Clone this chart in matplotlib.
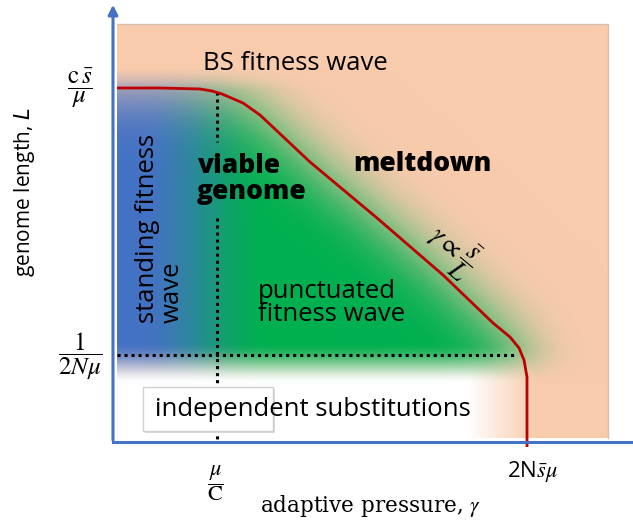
import numpy as np
import matplotlib
matplotlib.use("Agg")
import matplotlib.pyplot as plt
from matplotlib.path import Path
from matplotlib.patches import Rectangle

# schematic coordinates (pixel-like units, y grows downward)
curve_gamma = [117, 160, 200, 212, 222, 243, 260, 310, 377, 443, 493, 510, 519, 524, 527, 527, 527]
curve_L = [88, 88, 89, 91, 94, 103, 115, 162, 218, 275, 323, 337, 348, 360, 377, 420, 447]

ytick_pos = [88, 356]
ytick_labels = [r'$\dfrac{\mathrm{c}\,\bar{s}}{\mu}$', r'$\dfrac{1}{2N\mu}$']
xtick_pos = [215, 532]
xtick_labels = [r'$\dfrac{\mu}{\mathrm{C}}$', r'2N$\bar{s}\mu$']

mu_over_c = 217      # vertical dotted line
l_low = 355          # horizontal dotted line

peach = np.array([248, 203, 173]) / 255
blue = np.array([68, 114, 196]) / 255
green = np.array([0, 176, 80]) / 255
axis_blue = '#4472C4'
red = '#C00000'

W, H = 633, 525


def blur(a, s):
    k = np.arange(-3 * s, 3 * s + 1)
    g = np.exp(-k ** 2 / (2.0 * s * s))
    g /= g.sum()
    a = np.pad(a, 3 * s, mode='edge')
    a = np.apply_along_axis(lambda r: np.convolve(r, g, mode='same'), 0, a)
    a = np.apply_along_axis(lambda r: np.convolve(r, g, mode='same'), 1, a)
    return a[3 * s:-3 * s, 3 * s:-3 * s]


xx, yy = np.meshgrid(np.arange(W) + 0.5, np.arange(H) + 0.5)

# background: white + peach box
img = np.ones((H, W, 3))
box = (xx >= 117) & (xx <= 608) & (yy >= 24) & (yy <= 438)
img[box] = peach

# white zone at the bottom (independent substitutions)
sx = 1 - np.clip((xx - 468) / 68.0, 0, 1)
sy = np.clip((yy - 345) / 35.0, 0, 1)
aw = (sx * sy)[..., None] * box[..., None]
img = img * (1 - aw) + aw * 1.0

# viable region under the red curve
poly = [(-60, 88)] + list(zip(curve_gamma, curve_L)) + [(527, 600), (-60, 600)]
inside = Path(poly).contains_points(np.c_[xx.ravel(), yy.ravel()]).reshape(H, W).astype(float)
alpha = blur(inside, 28)
alpha *= np.clip((yy - 68) / 22.0, 0, 1)
v = np.clip((yy - 342) / 42.0, 0, 1)
alpha *= 1 - v * v * (3 - 2 * v)
alpha[~box] = 0
t = np.clip((xx - 140) / 130.0, 0, 1)
t = t * t * (3 - 2 * t)
col = blue * (1 - t[..., None]) + green * t[..., None]
img = img * (1 - alpha[..., None]) + col * alpha[..., None]

fig = plt.figure(figsize=(6.33, 5.25), dpi=100)
ax = fig.add_axes([0, 0, 1, 1])
ax.imshow(img, extent=(0, W, H, 0), interpolation='bilinear', zorder=0)
ax.set_xlim(0, W)
ax.set_ylim(H, 0)
ax.axis('off')

# box edges
ax.plot([117, 608, 608], [24, 24, 438], color='#d8c0b0', lw=1, zorder=1)

# dotted lines
dots = dict(color='black', lw=2.2, linestyle=(0, (1, 1.3)), zorder=3)
ax.plot([mu_over_c, mu_over_c], [92, 142], **dots)
ax.plot([mu_over_c, mu_over_c], [218, 442], **dots)
ax.plot([117, 517], [l_low, l_low], **dots)

# red boundary
ax.plot(curve_gamma, curve_L, color=red, lw=2, zorder=4, solid_capstyle='butt')

# axes
ax.plot([113, 633], [442, 442], color=axis_blue, lw=2.2, zorder=5)
ax.annotate('', xy=(113, 2), xytext=(113, 443),
            arrowprops=dict(arrowstyle='-|>', color=axis_blue, lw=2.2, mutation_scale=14), zorder=5)

sans = ['Open Sans', 'DejaVu Sans']
fs = 18.5

# independent substitutions box
ax.add_patch(Rectangle((145, 389), 130, 44, facecolor='#d9d9d9', edgecolor='none', zorder=5))
ax.add_patch(Rectangle((143, 387), 130, 44, facecolor='white', edgecolor='#d0d0d0', lw=1, zorder=6))
ax.text(155, 410, 'independent substitutions', family=sans, fontsize=fs, ha='left', va='center', zorder=7)

ax.text(203, 70, 'BS fitness wave', family=sans, fontsize=fs, ha='left', va='baseline', zorder=7)
ax.text(197, 179, 'viable\ngenome', family=sans, fontsize=19, weight='heavy', ha='left', va='center',
        linespacing=1.0, zorder=7)
ax.text(353, 164, 'meltdown', family=sans, fontsize=19, weight='heavy', ha='left', va='center', zorder=7)
ax.text(160, 323, 'standing fitness\nwave', family=sans, fontsize=fs, rotation=90, ha='center', va='bottom',
        multialignment='left', linespacing=0.95, zorder=7)
ax.text(258, 303, 'punctuated\nfitness wave', family=sans, fontsize=fs, ha='left', va='center',
        linespacing=0.9, zorder=7)
ax.text(451, 250, r'$\gamma \propto \dfrac{\bar{s}}{L}$', fontsize=19, rotation=-40, ha='center', va='center',
        math_fontfamily='stix', zorder=7)

# tick labels and axis titles
for y, lab in zip(ytick_pos, ytick_labels):
    ax.text(80, y, lab, fontsize=18, ha='center', va='center', math_fontfamily='stix')
for x, lab in zip(xtick_pos, xtick_labels):
    ax.text(x, 471 if 'N' in lab else 483, lab, family=sans, fontsize=16, ha='center', va='center',
            math_fontfamily='stix')
ax.text(371, 506, r'adaptive pressure, $\gamma$', family=['DejaVu Serif'], fontsize=15.5,
        ha='center', va='center', math_fontfamily='stix')
ax.text(25, 192, r'genome length, $L$', family=sans, fontsize=15, rotation=90, ha='center', va='center',
        math_fontfamily='dejavusans')

fig.savefig('out.png', dpi=100)
